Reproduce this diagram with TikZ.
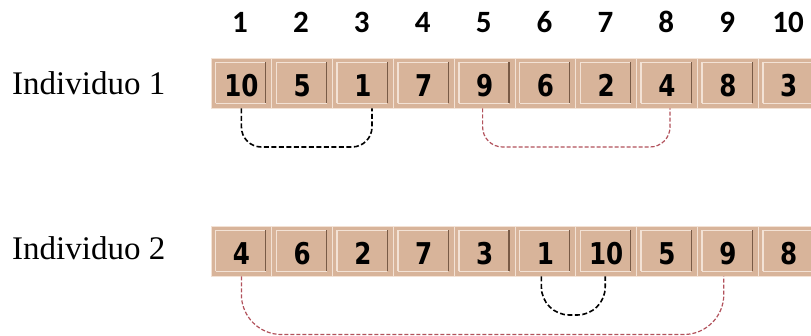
\documentclass[tikz,border=0pt]{standalone}
\usepackage{fontspec}
\setmainfont{Liberation Serif}
\newfontface\cellfont[FakeStretch=0.82]{DejaVu Sans Bold}
\newfontface\topfont{Carlito Bold}
\usetikzlibrary{calc}
\definecolor{celltan}{RGB}{216,180,154}
\definecolor{cellhi}{RGB}{243,226,213}
\definecolor{cellsh}{RGB}{120,90,70}
\definecolor{redline}{RGB}{178,82,92}
\tikzset{
  cell/.style={draw=cellhi, line width=0.8pt, fill=celltan,
    minimum width=60.8pt, minimum height=50pt, inner sep=0pt,
    text height=28pt, text depth=0pt,
    font=\cellfont\fontsize{30}{30}\selectfont,
    path picture={
      \draw[cellhi, line width=1.6pt]
        ([shift={(4.5pt,4.5pt)}]path picture bounding box.south west) --
        ([shift={(4.5pt,-4.5pt)}]path picture bounding box.north west) --
        ([shift={(-6pt,-4.5pt)}]path picture bounding box.north east);
      \draw[cellhi, line width=1pt]
        ([shift={(4.5pt,4.5pt)}]path picture bounding box.south west) --
        ([shift={(-6pt,4.5pt)}]path picture bounding box.south east);
      \draw[cellsh, line width=1.3pt]
        ([shift={(-6pt,-4.5pt)}]path picture bounding box.north east) --
        ([shift={(-6pt,4.5pt)}]path picture bounding box.south east);
    }},
  colnum/.style={anchor=base, font=\topfont\fontsize{31}{31}\selectfont},
  rowlabel/.style={anchor=base west, inner sep=0pt, font=\fontsize{33}{33}\selectfont},
  blackdash/.style={draw=black, line width=1.6pt, dash pattern=on 5pt off 2.5pt},
  reddash/.style={draw=redline, line width=1.2pt, dash pattern=on 4pt off 2pt},
}
\begin{document}
\begin{tikzpicture}[x=1pt, y=-1pt]
\clip (0,0) rectangle (811,336);
\fill[white] (0,0) rectangle (811,336);
% column numbers
\foreach \i in {1,...,10} {
  \node[colnum] (n\i) at ({240+60.9*(\i-1)},33) {\i};
}
% row labels
\node[rowlabel] (l1) at (12,95) {Individuo 1};
\node[rowlabel] (l2) at (12,260) {Individuo 2};
% row 1 cells
\foreach \v [count=\i] in {10,5,1,7,9,6,2,4,8,3} {
  \node[cell] (r1c\i) at ({241.4+60.8*(\i-1)},83) {\v};
}
% row 2 cells
\foreach \v [count=\i] in {4,6,2,7,3,1,10,5,9,8} {
  \node[cell] (r2c\i) at ({241.4+60.8*(\i-1)},251) {\v};
}
% helper levels
\coordinate (y1) at (0,147);
\coordinate (y2) at (0,315);
\coordinate (y3) at (0,334.5);
\coordinate (a1) at ($(r1c3.south)+(9,0)$);
\coordinate (a2) at ($(r1c5.south)+(-2,0)$);
\coordinate (a3) at ($(r1c8.south)+(3,0)$);
\coordinate (b1) at ($(r2c9.south)+(-4,0)$);
\coordinate (b2) at ($(r2c6.south)+(-4,0)$);
\coordinate (b3) at ($(r2c7.south)+(-1,0)$);
% connectors row 1
\draw[blackdash, rounded corners=20pt] (r1c1.south) -- (r1c1.south |- y1) -- (a1 |- y1) -- (a1);
\draw[reddash, rounded corners=20pt] (a2) -- (a2 |- y1) -- (a3 |- y1) -- (a3);
% connectors row 2
\draw[reddash, rounded corners=40pt] (r2c1.south) -- (r2c1.south |- y3) -- (b1 |- y3) -- (b1);
\draw[blackdash, rounded corners=28pt] (b2) -- (b2 |- y2) -- (b3 |- y2) -- (b3);
\end{tikzpicture}
\end{document}
